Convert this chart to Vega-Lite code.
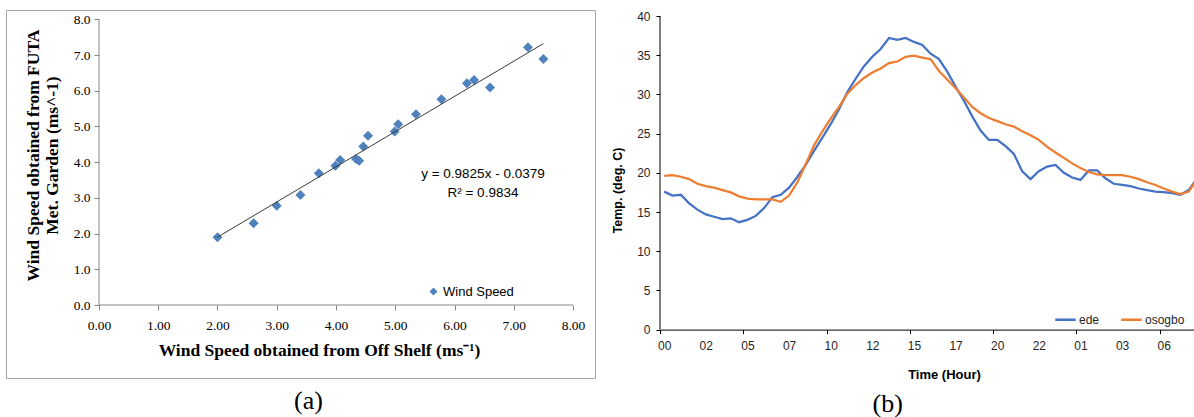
{
  "$schema": "https://vega.github.io/schema/vega-lite/v6.json",
  "background": "white",
  "padding": {"left": 5, "top": 9, "right": 0, "bottom": 0},
  "spacing": 15,
  "resolve": {"scale": {"color": "independent"}, "legend": {"color": "independent"}},
  "config": {"font": "Liberation Sans", "view": {"stroke": null}},
  "datasets": {
    "wind": [
      {"off": 2.00, "futa": 1.90}, {"off": 2.61, "futa": 2.29}, {"off": 3.00, "futa": 2.78},
      {"off": 3.40, "futa": 3.08}, {"off": 3.71, "futa": 3.69}, {"off": 3.99, "futa": 3.90},
      {"off": 4.07, "futa": 4.06}, {"off": 4.34, "futa": 4.09}, {"off": 4.39, "futa": 4.04},
      {"off": 4.46, "futa": 4.44}, {"off": 4.54, "futa": 4.74}, {"off": 4.99, "futa": 4.86},
      {"off": 5.05, "futa": 5.06}, {"off": 5.35, "futa": 5.34}, {"off": 5.78, "futa": 5.76},
      {"off": 6.21, "futa": 6.21}, {"off": 6.33, "futa": 6.30}, {"off": 6.60, "futa": 6.09},
      {"off": 7.24, "futa": 7.22}, {"off": 7.50, "futa": 6.89}
    ],
    "temps": [
      {"h": 0, "ede": 17.6, "osogbo": 19.6}, {"h": 0.5, "ede": 17.1, "osogbo": 19.7},
      {"h": 1, "ede": 17.2, "osogbo": 19.5}, {"h": 1.5, "ede": 16.1, "osogbo": 19.2},
      {"h": 2, "ede": 15.3, "osogbo": 18.6}, {"h": 2.5, "ede": 14.7, "osogbo": 18.3},
      {"h": 3, "ede": 14.4, "osogbo": 18.1}, {"h": 3.5, "ede": 14.1, "osogbo": 17.8},
      {"h": 4, "ede": 14.2, "osogbo": 17.5}, {"h": 4.5, "ede": 13.7, "osogbo": 17.0},
      {"h": 5, "ede": 14.0, "osogbo": 16.7}, {"h": 5.5, "ede": 14.5, "osogbo": 16.6},
      {"h": 6, "ede": 15.5, "osogbo": 16.6}, {"h": 6.5, "ede": 16.9, "osogbo": 16.6},
      {"h": 7, "ede": 17.2, "osogbo": 16.3}, {"h": 7.5, "ede": 18.1, "osogbo": 17.1},
      {"h": 8, "ede": 19.5, "osogbo": 18.8}, {"h": 8.5, "ede": 21.0, "osogbo": 21.1},
      {"h": 9, "ede": 22.8, "osogbo": 23.5}, {"h": 9.5, "ede": 24.5, "osogbo": 25.3},
      {"h": 10, "ede": 26.2, "osogbo": 26.9}, {"h": 10.5, "ede": 28.1, "osogbo": 28.4},
      {"h": 11, "ede": 30.3, "osogbo": 30.1}, {"h": 11.5, "ede": 32.0, "osogbo": 31.2},
      {"h": 12, "ede": 33.6, "osogbo": 32.1}, {"h": 12.5, "ede": 34.8, "osogbo": 32.8},
      {"h": 13, "ede": 35.8, "osogbo": 33.3}, {"h": 13.5, "ede": 37.2, "osogbo": 34.0},
      {"h": 14, "ede": 36.95, "osogbo": 34.2}, {"h": 14.5, "ede": 37.2, "osogbo": 34.8},
      {"h": 15, "ede": 36.7, "osogbo": 34.95}, {"h": 15.5, "ede": 36.3, "osogbo": 34.7},
      {"h": 16, "ede": 35.2, "osogbo": 34.5}, {"h": 16.5, "ede": 34.5, "osogbo": 33.0},
      {"h": 17, "ede": 32.9, "osogbo": 31.9}, {"h": 17.5, "ede": 31.0, "osogbo": 30.8},
      {"h": 18, "ede": 29.2, "osogbo": 29.6}, {"h": 18.5, "ede": 27.2, "osogbo": 28.4},
      {"h": 19, "ede": 25.4, "osogbo": 27.6}, {"h": 19.5, "ede": 24.2, "osogbo": 27.0},
      {"h": 20, "ede": 24.2, "osogbo": 26.6}, {"h": 20.5, "ede": 23.4, "osogbo": 26.2},
      {"h": 21, "ede": 22.4, "osogbo": 25.9}, {"h": 21.5, "ede": 20.2, "osogbo": 25.3},
      {"h": 22, "ede": 19.2, "osogbo": 24.8}, {"h": 22.5, "ede": 20.2, "osogbo": 24.2},
      {"h": 23, "ede": 20.8, "osogbo": 23.3}, {"h": 23.5, "ede": 21.0, "osogbo": 22.6},
      {"h": 24, "ede": 20.0, "osogbo": 21.9}, {"h": 24.5, "ede": 19.4, "osogbo": 21.2},
      {"h": 25, "ede": 19.1, "osogbo": 20.6}, {"h": 25.5, "ede": 20.3, "osogbo": 20.1},
      {"h": 26, "ede": 20.3, "osogbo": 19.8}, {"h": 26.5, "ede": 19.3, "osogbo": 19.7},
      {"h": 27, "ede": 18.6, "osogbo": 19.7}, {"h": 27.5, "ede": 18.45, "osogbo": 19.7},
      {"h": 28, "ede": 18.3, "osogbo": 19.5}, {"h": 28.5, "ede": 18.0, "osogbo": 19.2},
      {"h": 29, "ede": 17.8, "osogbo": 18.8}, {"h": 29.5, "ede": 17.6, "osogbo": 18.45},
      {"h": 30, "ede": 17.55, "osogbo": 18.0}, {"h": 30.5, "ede": 17.4, "osogbo": 17.6},
      {"h": 31, "ede": 17.2, "osogbo": 17.3}, {"h": 31.5, "ede": 17.8, "osogbo": 17.6},
      {"h": 32, "ede": 19.3, "osogbo": 19.2}
    ],
    "one": [{}]
  },
  "hconcat": [
    {
      "width": 589,
      "height": 368,
      "view": {"stroke": "#a6a6a6", "strokeWidth": 1},
      "title": {"text": "(a)", "orient": "bottom", "frame": "group", "anchor": "middle", "dx": 8, "offset": 10, "font": "Liberation Serif", "fontSize": 26, "fontWeight": "normal", "color": "#000"},
      "layer": [
        {
          "data": {"name": "one"},
          "mark": {"type": "rule", "color": "#868686", "strokeWidth": 1},
          "encoding": {
            "x": {"datum": 0, "type": "quantitative"},
            "x2": {"datum": 8},
            "y": {"datum": 0, "type": "quantitative"}
          }
        },
        {
          "data": {"name": "one"},
          "mark": {"type": "rule", "color": "#868686", "strokeWidth": 1},
          "encoding": {
            "x": {"datum": 0, "type": "quantitative"},
            "y": {"datum": 0, "type": "quantitative"},
            "y2": {"datum": 8}
          }
        },
        {
          "data": {"name": "wind"},
          "mark": {"type": "point", "shape": "diamond", "filled": true, "opacity": 1, "size": 100},
          "encoding": {
            "x": {"field": "off", "type": "quantitative",
              "scale": {"domain": [-1.5696, 8.3713], "nice": false, "zero": false},
              "axis": {"orient": "bottom", "offset": -73, "values": [0, 1, 2, 3, 4, 5, 6, 7, 8], "format": ".2f",
                "domain": false, "grid": false, "tickSize": 5, "tickColor": "#868686", "labelFlush": false, "labelOverlap": false,
                "labelFont": "Liberation Serif", "labelFontSize": 13.5, "labelColor": "#000", "labelPadding": 8,
                "title": "Wind Speed obtained from Off Shelf (ms⁻¹)", "titleFont": "Liberation Serif", "titleFontSize": 17.5,
                "titleFontWeight": "bold", "titleColor": "#000", "titlePadding": 10, "titleX": 313}},
            "y": {"field": "futa", "type": "quantitative",
              "scale": {"domain": [-2.044, 8.26], "nice": false, "zero": false},
              "axis": {"orient": "left", "offset": -93, "values": [0, 1, 2, 3, 4, 5, 6, 7, 8], "format": ".1f",
                "domain": false, "grid": false, "tickSize": 5, "tickColor": "#868686", "labelFlush": false, "labelOverlap": false,
                "labelFont": "Liberation Serif", "labelFontSize": 13.5, "labelColor": "#000", "labelPadding": 4,
                "title": ["Wind Speed obtained from FUTA", "Met. Garden (ms^-1)"], "titleFont": "Liberation Serif", "titleFontSize": 17.5,
                "titleFontWeight": "bold", "titleColor": "#000", "titlePadding": 12, "titleLineHeight": 19, "titleY": 145}},
            "color": {"datum": "Wind Speed", "type": "nominal", "scale": {"domain": ["Wind Speed"], "range": ["#4F81BD"]},
              "legend": {"orient": "none", "legendX": 421, "legendY": 275, "title": null, "padding": 0,
                "symbolType": "diamond", "symbolSize": 64, "symbolStrokeWidth": 0, "labelOffset": 3,
                "labelFont": "Liberation Sans", "labelFontSize": 13, "labelColor": "#000"}}
          }
        },
        {
          "data": {"name": "wind"},
          "transform": [{"regression": "futa", "on": "off"}],
          "mark": {"type": "line", "color": "#3a3a3a", "strokeWidth": 1},
          "encoding": {
            "x": {"field": "off", "type": "quantitative"},
            "y": {"field": "futa", "type": "quantitative"}
          }
        },
        {
          "data": {"name": "one"},
          "mark": {"type": "text", "text": ["y = 0.9825x - 0.0379", "R² = 0.9834"], "lineHeight": 19,
            "font": "Liberation Sans", "fontSize": 13.5, "fontWeight": "normal", "color": "#000", "align": "center", "baseline": "middle"},
          "encoding": {
            "x": {"datum": 6.48, "type": "quantitative"},
            "y": {"datum": 3.68, "type": "quantitative"}
          }
        }
      ]
    },
    {
      "width": 535.4,
      "height": 319.6,
      "view": {"stroke": null},
      "title": {"text": "(b)", "orient": "bottom", "frame": "group", "anchor": "middle", "dx": -40, "offset": 9, "font": "Liberation Serif", "fontSize": 26, "fontWeight": "normal", "color": "#000"},
      "layer": [
        {
          "data": {"name": "temps"},
          "transform": [{"fold": ["ede", "osogbo"], "as": ["station", "temp"]}],
          "mark": {"type": "line", "strokeWidth": 2.25, "clip": true},
          "encoding": {
            "x": {"field": "h", "type": "quantitative",
              "scale": {"domain": [-0.25, 31.9], "nice": false, "zero": false},
              "axis": {"orient": "bottom", "values": [-0.25, 2.25, 4.75, 7.25, 9.75, 12.25, 14.75, 17.25, 19.75, 22.25, 24.75, 27.25, 29.75],
                "labelExpr": "(floor((datum.value + 0.25) % 24) < 10 ? '0' : '') + floor((datum.value + 0.25) % 24)",
                "labelOffset": 4.16, "labelAlign": "center", "labelFlush": false, "labelOverlap": false, "labelBound": false,
                "tickColor": {"condition": {"test": "(datum.value + 0.25) % 5 === 0", "value": "#000"}, "value": "transparent"},
                "tickSize": 4, "domainColor": "#000", "domainWidth": 1, "grid": false,
                "labelFont": "Liberation Sans", "labelFontSize": 12, "labelColor": "#262626", "labelPadding": 7,
                "title": "Time (Hour)", "titleFont": "Liberation Sans", "titleFontSize": 13, "titleFontWeight": "bold",
                "titleColor": "#000", "titlePadding": 17, "titleX": 284}},
            "y": {"field": "temp", "type": "quantitative",
              "scale": {"domain": [0, 40.77], "nice": false, "zero": false},
              "axis": {"orient": "left", "values": [0, 5, 10, 15, 20, 25, 30, 35, 40], "grid": false, "domain": false, "tickSize": 4, "tickColor": "#000",
                "labelOverlap": false, "labelFlush": false,
                "labelFont": "Liberation Sans", "labelFontSize": 12, "labelColor": "#262626", "labelPadding": 6,
                "title": "Temp. (deg. C)", "titleFont": "Liberation Sans", "titleFontSize": 12.5, "titleFontWeight": "bold",
                "titleColor": "#000", "titlePadding": 12, "titleY": 180}},
            "color": {"field": "station", "type": "nominal",
              "scale": {"domain": ["ede", "osogbo"], "range": ["#4472C4", "#ED7D31"]},
              "legend": {"orient": "none", "legendX": 394, "legendY": 298, "direction": "horizontal", "title": null, "padding": 0,
                "symbolType": "stroke", "symbolSize": 420, "symbolStrokeWidth": 2.5, "labelOffset": 2, "columnPadding": 16,
                "labelFont": "Liberation Sans", "labelFontSize": 12, "labelColor": "#262626"}}
          }
        },
        {
          "data": {"name": "one"},
          "mark": {"type": "rule", "color": "#000", "strokeWidth": 1},
          "encoding": {
            "x": {"datum": -0.25, "type": "quantitative",
              "axis": {"orient": "bottom", "values": [-0.25, 2.25, 4.75, 7.25, 9.75, 12.25, 14.75, 17.25, 19.75, 22.25, 24.75, 27.25, 29.75],
                "labelExpr": "(floor((datum.value + 0.25) % 24) < 10 ? '0' : '') + floor((datum.value + 0.25) % 24)",
                "labelOffset": 4.16, "labelAlign": "center", "labelFlush": false, "labelOverlap": false, "labelBound": false,
                "tickColor": {"condition": {"test": "(datum.value + 0.25) % 5 === 0", "value": "#000"}, "value": "transparent"},
                "tickSize": 4, "domainColor": "#000", "domainWidth": 1, "grid": false,
                "labelFont": "Liberation Sans", "labelFontSize": 12, "labelColor": "#262626", "labelPadding": 7,
                "title": "Time (Hour)", "titleFont": "Liberation Sans", "titleFontSize": 13, "titleFontWeight": "bold",
                "titleColor": "#000", "titlePadding": 17, "titleX": 284}},
            "y": {"datum": 0, "type": "quantitative",
              "axis": {"orient": "left", "values": [0, 5, 10, 15, 20, 25, 30, 35, 40], "grid": false, "domain": false, "tickSize": 4, "tickColor": "#000",
                "labelOverlap": false, "labelFlush": false,
                "labelFont": "Liberation Sans", "labelFontSize": 12, "labelColor": "#262626", "labelPadding": 6,
                "title": "Temp. (deg. C)", "titleFont": "Liberation Sans", "titleFontSize": 12.5, "titleFontWeight": "bold",
                "titleColor": "#000", "titlePadding": 12, "titleY": 180}},
            "y2": {"datum": 40}
          }
        }
      ]
    }
  ]
}
